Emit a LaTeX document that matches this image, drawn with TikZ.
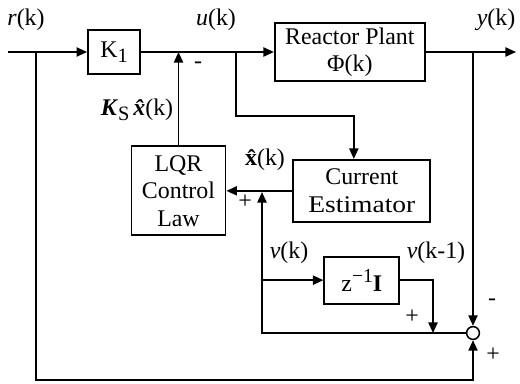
\documentclass[tikz,border=0pt]{standalone}
\usepackage{fontspec}
\setmainfont{Liberation Serif}
\usetikzlibrary{positioning,arrows.meta,calc}
\newcommand{\lowsub}[1]{\raisebox{-3.5pt}{\fontsize{14.5}{15}\selectfont #1}}
\newcommand{\hatx}{\makebox[0.5em][l]{\^{x}}}
\tikzset{
  block/.style={rectangle, draw, line width=1.3pt, align=center, inner sep=2pt,
                font=\fontsize{17}{19.5}\selectfont},
  sumnode/.style={circle, draw, line width=1.1pt, minimum size=0.32cm, inner sep=0pt},
  sig/.style={-{Triangle[length=7.5pt,width=6.5pt]}, line width=1.3pt},
  lbl/.style={font=\fontsize{17}{19.5}\selectfont, inner sep=0pt}
}
\begin{document}
\begin{tikzpicture}
\useasboundingbox (0,0) rectangle (13,-9.575);
\node[block, minimum width=1.3cm, minimum height=1.1cm] (k1) at (2.85,-1.3) {K\lowsub{1}};
\node[block, minimum width=3.75cm, minimum height=1.45cm, right=3.325cm of k1] (plant) {Reactor Plant\\Φ(k)};
\node[block, minimum width=3.425cm, minimum height=1.55cm, below=1.925cm of plant, xshift=0.3cm] (est) {Current\\\scalebox{1.15}[1]{Estimator}};
\node[block, minimum width=2.35cm, minimum height=2.225cm, left=1.65cm of est] (lqr) {LQR\\Control\\Law};
\node[block, minimum width=1.875cm, minimum height=1.175cm, below=0.825cm of est] (zdel) {z\raisebox{0.85ex}{\fontsize{14}{14}\selectfont −1}\textbf{I}};
\node[sumnode] (sum) at (11.825,-8.325) {};

\coordinate (rin) at (0.2,-1.3);
\coordinate (rbr) at (0.9,-1.3);
\coordinate (rbot) at (0.9,-9.5);
\coordinate (ubr) at (5.9,-1.3);
\coordinate (udrop) at (5.9,-2.9);
\coordinate (ybr) at (11.825,-1.3);
\coordinate (yout) at (12.9,-1.3);
\coordinate (vtop) at (6.55,-4.8);
\coordinate (vjoin) at (10.825,-8.325);

% signal labels
\node[lbl] (rlab) at (0.65,-0.5) {\textit{r}(k)};
\node[lbl] (ulab) at (5.4,-0.5) {\textit{u}(k)};
\node[lbl] (ylab) at (12.4,-0.5) {\textit{y}(k)};
\node[lbl] (kslab) at (3.425,-2.75) {\textbf{\textit{K}}\lowsub{S}\,\textbf{\textit{\hatx}}(k)};
\node[lbl] (xlab) at (6.625,-4.0) {\textbf{\hatx}(k)};
\node[lbl] (vlab) at (7.225,-6.325) {\textit{v}(k)};
\node[lbl] (vdlab) at (10.9,-6.325) {\textit{v}(k-1)};
\node[lbl] (sgnu) at (4.95,-1.625) {-};
\node[lbl] (sgnx) at (6.125,-5.05) {+};
\node[lbl] (sgnv) at (10.3,-7.925) {+};
\node[lbl] (sgny) at (12.3,-7.55) {-};
\node[lbl] (sgnr) at (12.325,-8.875) {+};

\draw[sig] (rin) -- (k1);
\draw[sig] (k1) -- (plant);
\draw[sig] (plant) -- (yout);
\draw[sig] (lqr) -- (lqr |- k1.east);
\draw[sig] (ubr) -- (udrop) -| ([xshift=-2mm]est.north);
\draw[sig] (est) -- (lqr);
\draw[sig] (ybr) -- (sum);
\draw[sig] (rbr) -- (rbot) -| (sum);
\draw[sig] (sum) -| (vtop);
\draw[sig] (zdel.west -| vtop) -- (zdel);
\draw[sig] (zdel) -| (vjoin);
\end{tikzpicture}
\end{document}
